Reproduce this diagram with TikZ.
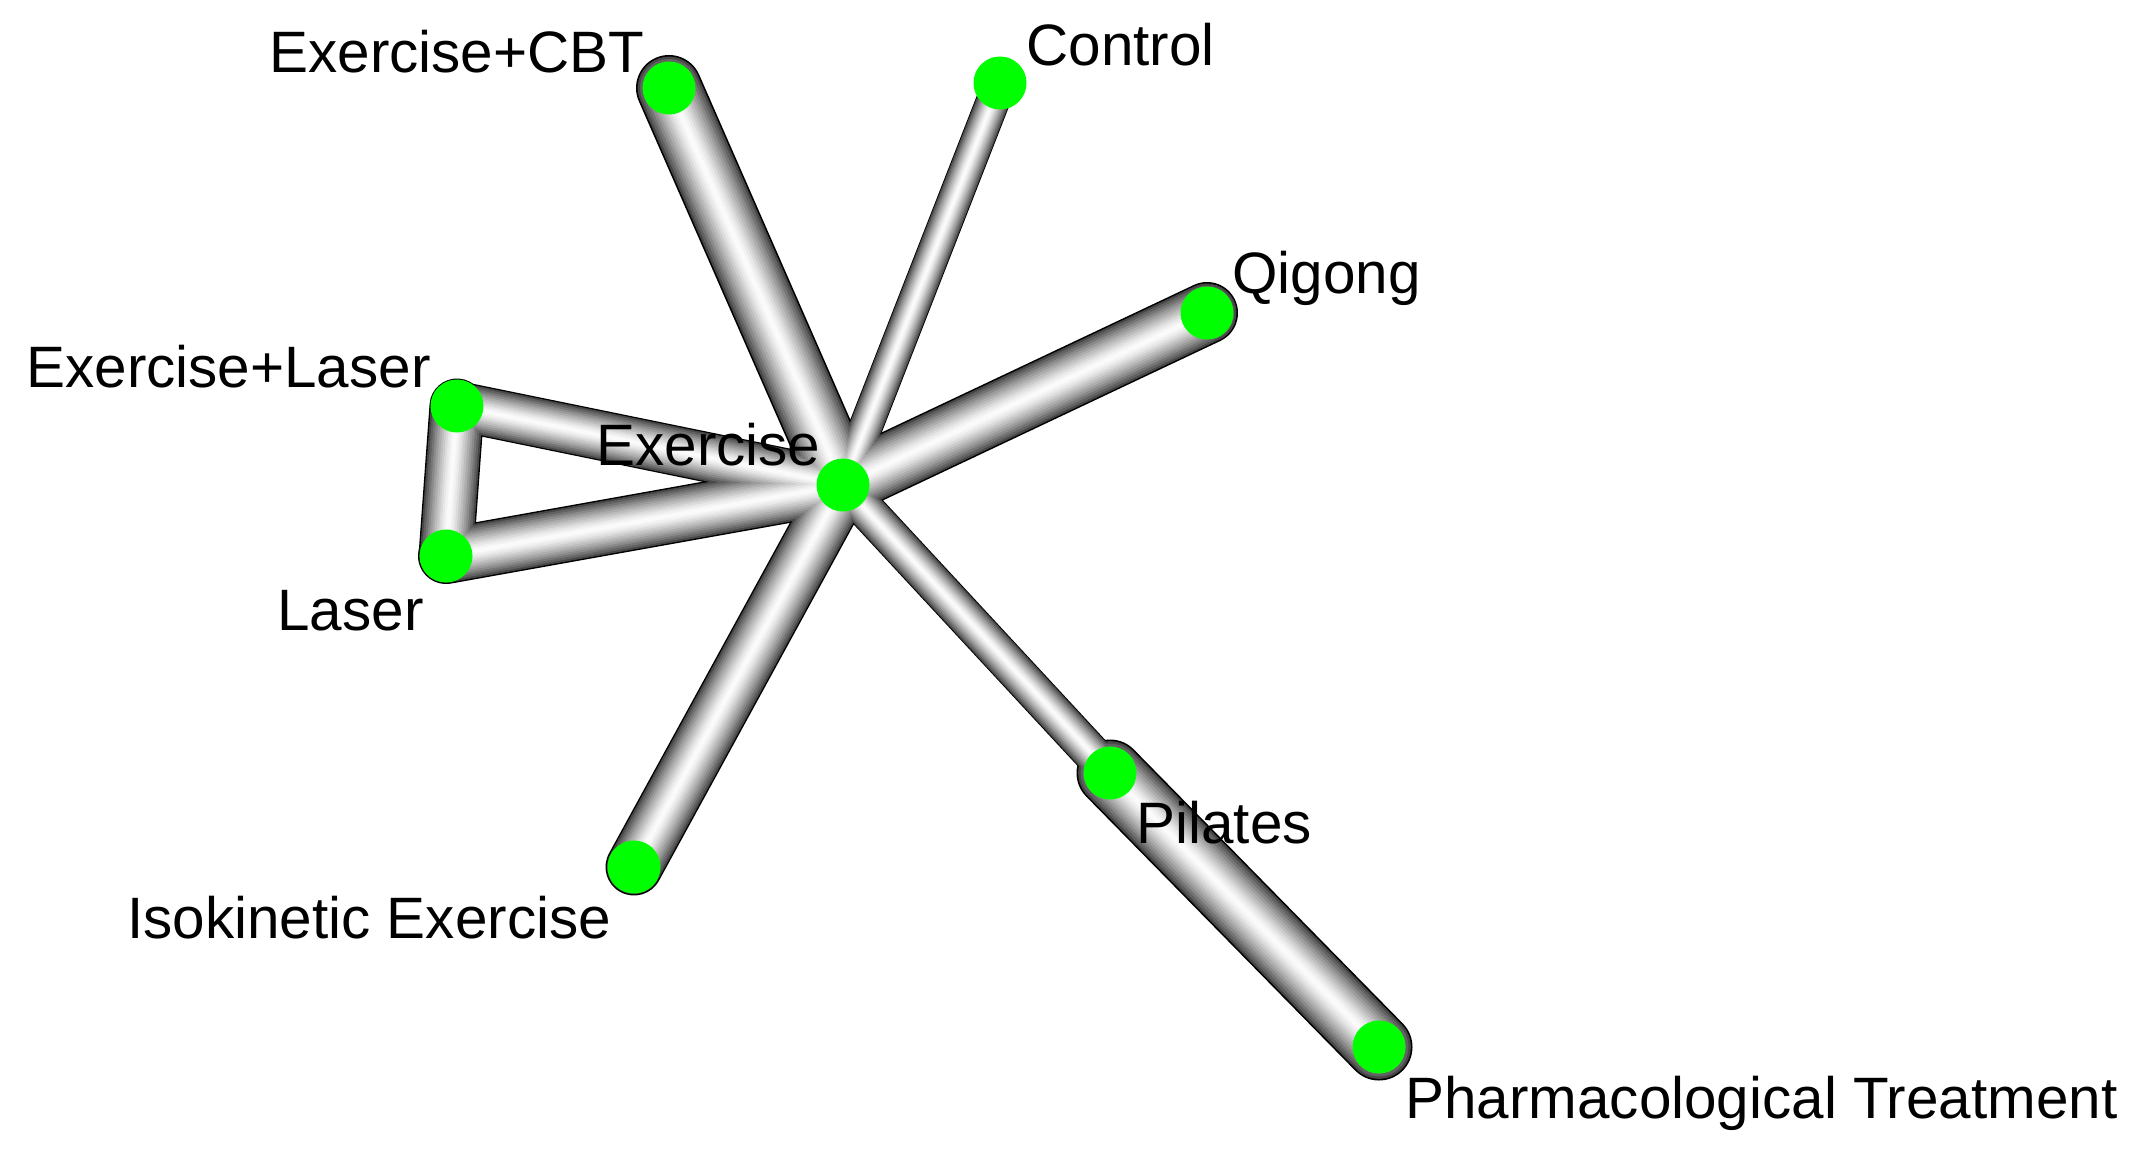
\documentclass[tikz,border=0pt]{standalone}
\usepackage{fontspec}
\setmainfont{Liberation Sans}
\usetikzlibrary{backgrounds}
\definecolor{nodegreen}{RGB}{0,255,0}
\tikzset{
  netnode/.style={circle, fill=nodegreen, draw=none, inner sep=0pt, minimum size=26.5pt},
  netlabel/.style={anchor=base west, inner sep=0pt, font=\fontsize{29.2pt}{32pt}\selectfont, text=black},
}
\begin{document}
\begin{tikzpicture}[x=0.5pt,y=-0.5pt]
\useasboundingbox (0,0) rectangle (2141,1151);
% nodes
\node[netnode] (ex)  at (843,485) {};
\node[netnode] (cbt) at (669,88) {};
\node[netnode] (ctl) at (1000,83) {};
\node[netnode] (qig) at (1207,313) {};
\node[netnode] (exl) at (457,406) {};
\node[netnode] (las) at (446,556) {};
\node[netnode] (iso) at (634,867) {};
\node[netnode] (pil) at (1110,773) {};
\node[netnode] (pha) at (1379,1047) {};
% tubes
\begin{pgfonlayer}{background}
\fill[white] (0,0) rectangle (2141,1151);
\foreach \f/\c in {1/black, 0.95/black!72, 0.88/black!62, 0.8/black!54, 0.72/black!46, 0.64/black!39, 0.56/black!32, 0.48/black!26, 0.4/black!20, 0.32/black!14, 0.24/black!9, 0.16/black!5, 0.08/black!2}{
  \foreach \a/\b/\w in {ex/cbt/66, ex/ctl/34, ex/qig/62, ex/exl/50, ex/las/56, exl/las/55, ex/iso/57, ex/pil/38, pil/pha/67}{
    \draw[line width={\f*\w*0.5pt}, draw=\c, line cap=round] (\a.center) -- (\b.center);
  }
}
\end{pgfonlayer}
% labels
\node[netlabel] (lcbt) at (269,72) {Exercise+CBT};
\node[netlabel] (lctl) at (1026,65) {Control};
\node[netlabel] (lqig) at (1232,293) {Qigong};
\node[netlabel] (lexl) at (26,387) {Exercise+Laser};
\node[netlabel] (lex)  at (596,465) {Exercise};
\node[netlabel] (llas) at (277,630) {Laser};
\node[netlabel] (lpil) at (1136,843) {Pilates};
\node[netlabel] (liso) at (127,938) {Isokinetic Exercise};
\node[netlabel] (lpha) at (1405,1118) {Pharmacological Treatment};
\end{tikzpicture}
\end{document}
